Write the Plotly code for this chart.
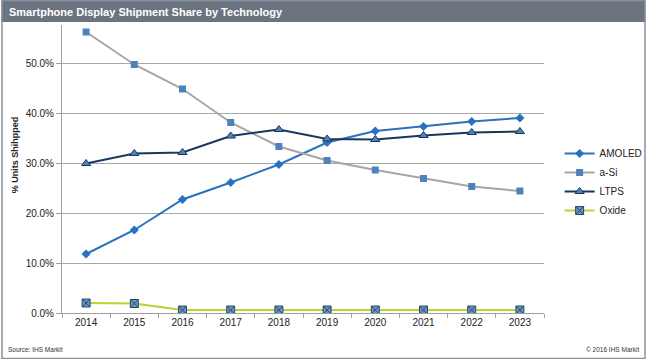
import plotly.graph_objects as go

years = ["2014", "2015", "2016", "2017", "2018", "2019", "2020", "2021", "2022", "2023"]
amoled = [11.8, 16.6, 22.7, 26.1, 29.7, 34.1, 36.4, 37.3, 38.3, 39.0]
asi = [56.2, 49.7, 44.8, 38.1, 33.3, 30.5, 28.6, 26.9, 25.3, 24.4]
ltps = [29.9, 31.9, 32.1, 35.4, 36.7, 34.8, 34.7, 35.5, 36.1, 36.3]
oxide = [2.0, 1.9, 0.6, 0.6, 0.6, 0.6, 0.6, 0.6, 0.6, 0.6]

W, H = 660, 359
L, R, T, B = 62, 104, 25, 46
PW, PH = W - L - R, H - T - B

def px(x):
    return (x - L) / PW

def py(y):
    return (H - B - y) / PH

fig = go.Figure()
fig.add_trace(go.Scatter(x=years, y=[v / 100 for v in amoled], name="AMOLED", mode="lines+markers",
                         line=dict(color="#2a72c0", width=2),
                         marker=dict(symbol="diamond", size=7, color="#2a72c0")))
fig.add_trace(go.Scatter(x=years, y=[v / 100 for v in asi], name="a-Si", mode="lines+markers",
                         line=dict(color="#a6a6a6", width=2),
                         marker=dict(symbol="square", size=7, color="#4f81bd")))
fig.add_trace(go.Scatter(x=years, y=[v / 100 for v in ltps], name="LTPS", mode="lines+markers",
                         line=dict(color="#17375e", width=2),
                         marker=dict(symbol="triangle-up", size=8, color="#4f81bd",
                                     line=dict(color="#17375e", width=1))))
fig.add_trace(go.Scatter(x=years, y=[v / 100 for v in oxide], name="Oxide", mode="lines+markers",
                         line=dict(color="#b8d432", width=2),
                         marker=dict(symbol="square-x", size=8, color="#6a93c3",
                                     line=dict(color="#2a4a6a", width=1))))

shapes = [
    dict(type="rect", xref="paper", yref="paper", x0=px(0), x1=px(W), y0=py(0), y1=py(22),
         fillcolor="#6b7480", line=dict(width=0), layer="below"),
    dict(type="rect", xref="paper", yref="paper", x0=px(0.5), x1=px(W - 0.5), y0=py(0.5), y1=py(H - 0.5),
         fillcolor="rgba(0,0,0,0)", line=dict(color="#8a9098", width=1.5)),
]

annotations = [
    dict(text="<b>Smartphone Display Shipment Share by Technology</b>", xref="paper", yref="paper",
         x=px(6), y=py(12), xanchor="left", yanchor="middle", showarrow=False,
         font=dict(family="Arial, Liberation Sans", size=11, color="white")),
    dict(text="<b>% Units Shihpped</b>", xref="paper", yref="paper", x=px(14), y=py(155),
         xanchor="center", yanchor="middle", textangle=-90, showarrow=False,
         font=dict(family="Arial, Liberation Sans", size=9, color="#222")),
    dict(text="Source: IHS Markit", xref="paper", yref="paper", x=px(5), y=py(349),
         xanchor="left", yanchor="middle", showarrow=False,
         font=dict(family="Arial, Liberation Sans", size=6.5, color="#333")),
    dict(text="© 2016 IHS Markit", xref="paper", yref="paper", x=px(655), y=py(349),
         xanchor="right", yanchor="middle", showarrow=False,
         font=dict(family="Arial, Liberation Sans", size=6.5, color="#333")),
]

fig.update_layout(
    width=W, height=H,
    margin=dict(l=L, r=R, t=T, b=B),
    paper_bgcolor="white", plot_bgcolor="white",
    font=dict(family="Arial, Liberation Sans", size=10, color="#333"),
    shapes=shapes, annotations=annotations,
    showlegend=True,
    legend=dict(x=px(572), y=py(139), xanchor="left", yanchor="top",
                font=dict(size=10, color="#222"), tracegroupgap=0, itemwidth=30,
                bgcolor="rgba(0,0,0,0)"),
    xaxis=dict(type="category", range=[-0.5, 9.5], showgrid=False, showline=True,
               linecolor="#a0a0a0", linewidth=1, ticks="outside", tickson="boundaries",
               ticklen=4, tickcolor="#a0a0a0", tickfont=dict(size=10, color="#222")),
    yaxis=dict(range=[0, 0.576], tickvals=[0, 0.1, 0.2, 0.3, 0.4, 0.5], tickformat=".1%",
               showgrid=True, gridcolor="#a8a8a8", gridwidth=1, showline=True,
               linecolor="#a0a0a0", linewidth=1, ticks="outside", ticklen=5,
               tickcolor="#a0a0a0", zeroline=False, tickfont=dict(size=10, color="#222")),
)

fig.write_html("out.html")
